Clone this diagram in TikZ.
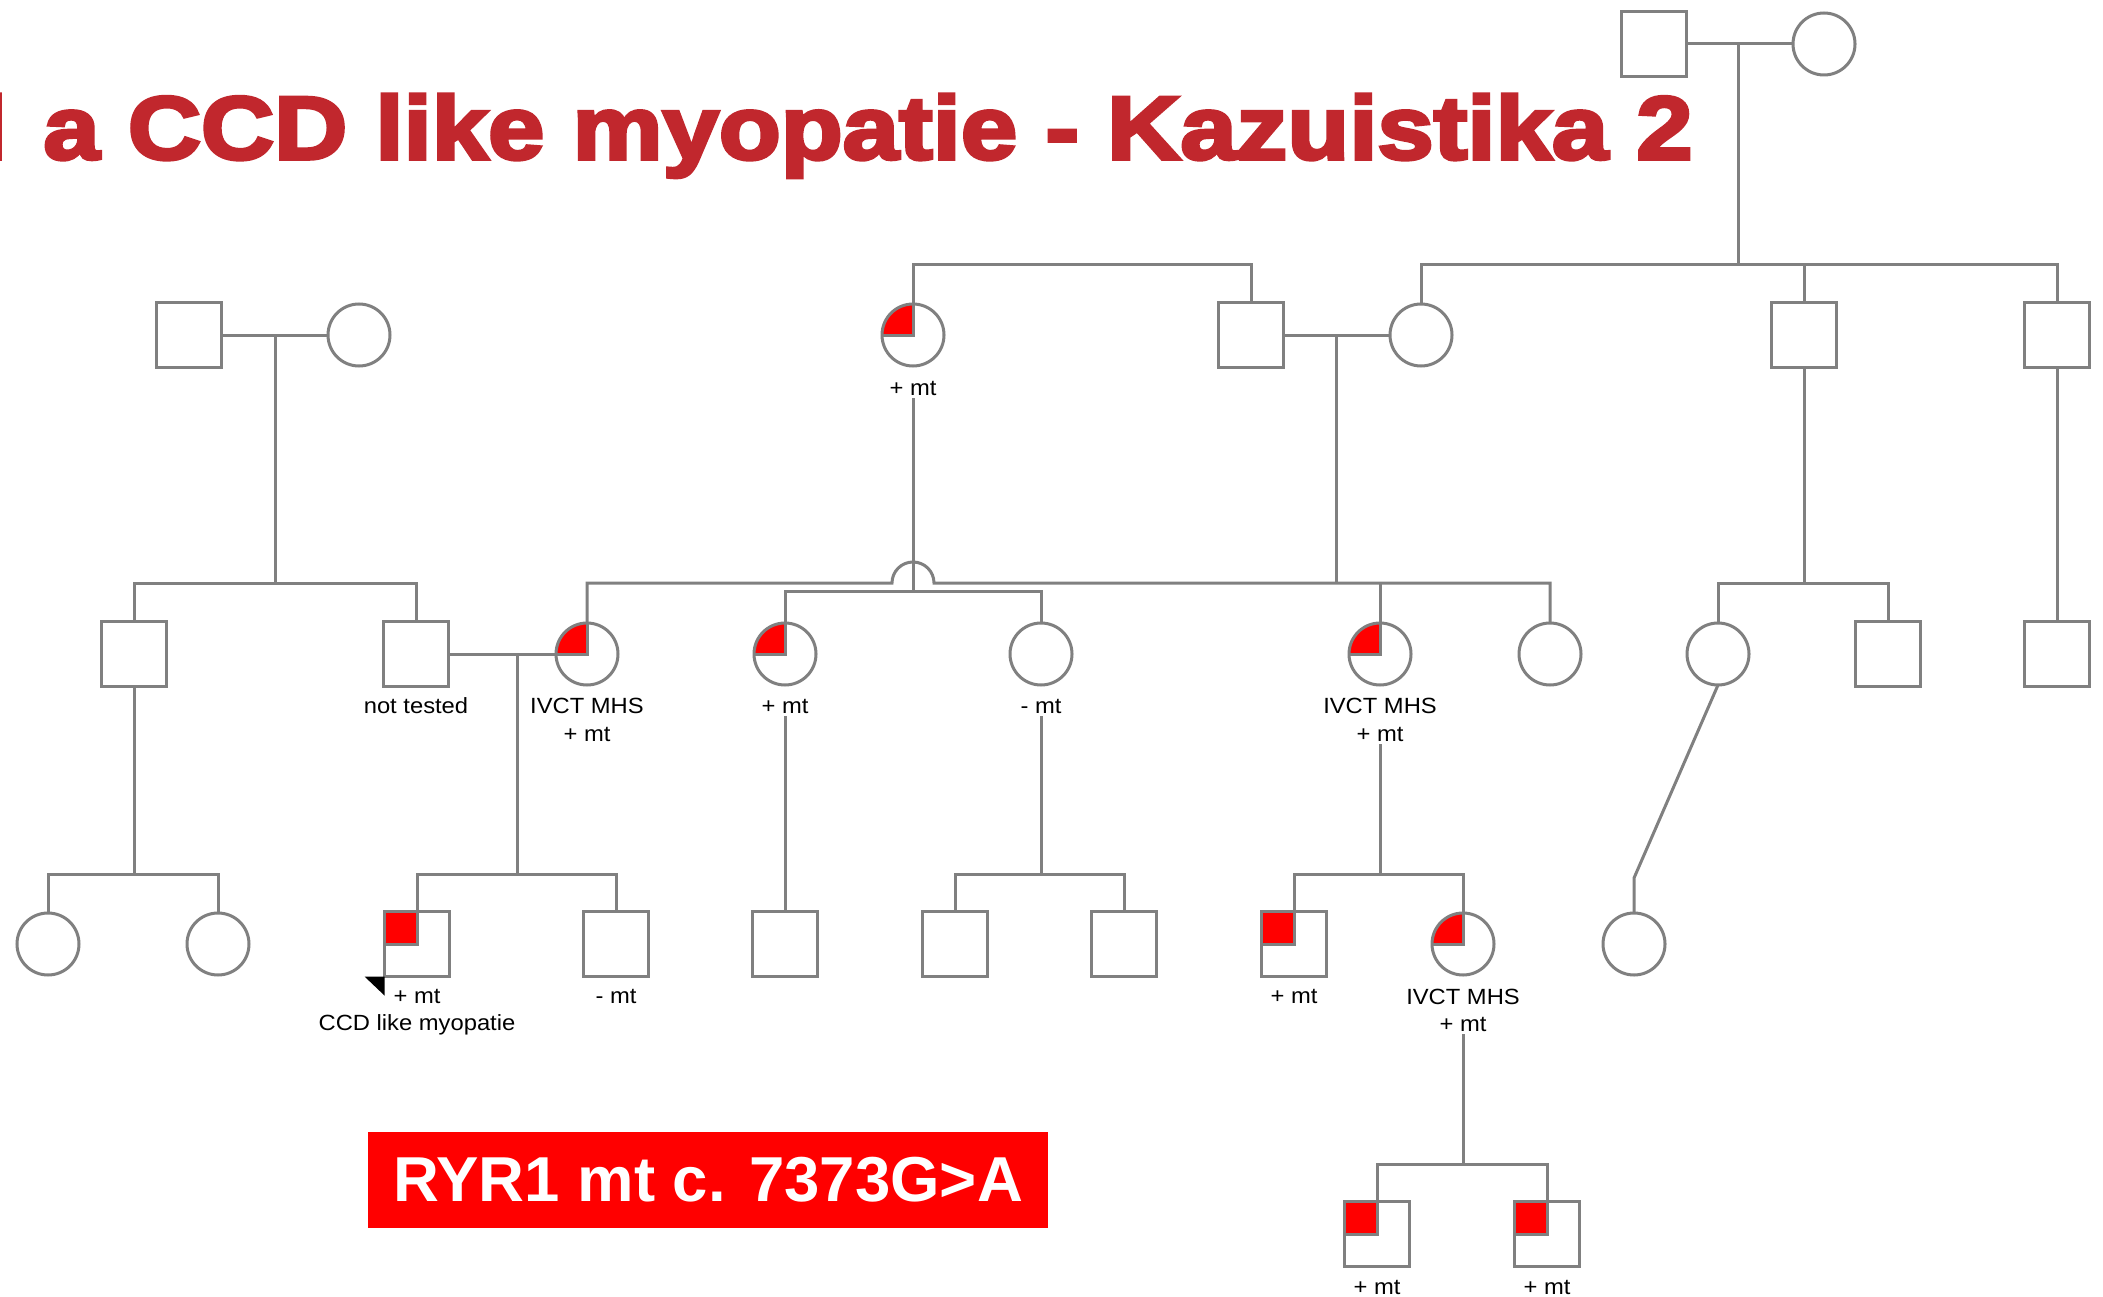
\documentclass[tikz,border=0pt]{standalone}
\usepackage{fontspec}
\setmainfont{Liberation Sans}
\newfontfamily\lblfont[FakeStretch=1.08]{Liberation Sans}
\newfontfamily\titlefont[FakeStretch=1.133,BoldFeatures={FakeBold=4}]{Liberation Sans}
\definecolor{pedgrey}{RGB}{128,128,128}
\definecolor{titlered}{RGB}{193,39,45}
\definecolor{bannerred}{RGB}{255,0,0}
\begin{document}
\begin{tikzpicture}[x=1pt,y=-1pt,
  male/.style={rectangle,draw=pedgrey,line width=3pt,minimum size=65pt,inner sep=0pt,outer sep=0pt,fill=white},
  female/.style={circle,draw=pedgrey,line width=3pt,minimum size=62pt,inner sep=0pt,outer sep=0pt,fill=white},
  carrier/.style={path picture={
     \fill[bannerred] (path picture bounding box.center) rectangle (path picture bounding box.north west);
     \draw[pedgrey,line width=3pt] (path picture bounding box.west) -- (path picture bounding box.center) -- (path picture bounding box.north);}},
  lbl/.style={font=\lblfont\fontsize{22}{26}\selectfont,inner xsep=1pt,inner ysep=3pt,text=black},
  conn/.style={draw=pedgrey,line width=3pt}]
\path[fill=white,use as bounding box] (0,0) rectangle (2103,1297);

% title
\node[anchor=base east,inner sep=0pt,text=titlered,font=\titlefont\bfseries\fontsize{89.4}{100}\selectfont] (title) at (1693,159) {l\kern 8pt{} a CCD like myopatie - Kazuistika 2};

% generation 0
\node[male] (A0) at (1654,44) {};
\node[female] (B0) at (1824,44) {};
% generation 1
\node[male] (L1m) at (189,335) {};
\node[female] (L1f) at (359,335) {};
\node[female,carrier] (G1) at (913,335) {};
\node[lbl,anchor=base] (G1l) at (913,395) {+ mt};
\node[male] (H1) at (1251,335) {};
\node[female] (I1) at (1421,335) {};
\node[male] (J1) at (1804,335) {};
\node[male] (K1) at (2057,335) {};
% generation 2
\node[male] (a2) at (134,654) {};
\node[male] (b2) at (416,654) {};
\node[lbl,anchor=base] (b2l) at (416,713) {not tested};
\node[female,carrier] (c2) at (587,654) {};
\node[lbl,anchor=base] (c2l) at (587,713) {IVCT MHS};
\node[lbl,anchor=base] (c2m) at (587,741) {+ mt};
\node[female,carrier] (d2) at (785,654) {};
\node[lbl,anchor=base] (d2l) at (785,713) {+ mt};
\node[female] (e2) at (1041,654) {};
\node[lbl,anchor=base] (e2l) at (1041,713) {- mt};
\node[female,carrier] (f2) at (1380,654) {};
\node[lbl,anchor=base] (f2l) at (1380,713) {IVCT MHS};
\node[lbl,anchor=base] (f2m) at (1380,741) {+ mt};
\node[female] (g2) at (1550,654) {};
\node[female] (h2) at (1718,654) {};
\node[male] (i2) at (1888,654) {};
\node[male] (j2) at (2057,654) {};
% generation 3
\node[female] (a3) at (48,944) {};
\node[female] (b3) at (218,944) {};
\node[male,carrier] (c3) at (417,944) {};
\node[lbl,anchor=base] (c3l) at (417,1003) {+ mt};
\node[lbl,anchor=base] (c3m) at (417,1030) {CCD like myopatie};
\node[male] (d3) at (616,944) {};
\node[lbl,anchor=base] (d3l) at (616,1003) {- mt};
\node[male] (e3) at (785,944) {};
\node[male] (f3) at (955,944) {};
\node[male] (g3) at (1124,944) {};
\node[male,carrier] (h3) at (1294,944) {};
\node[lbl,anchor=base] (h3l) at (1294,1003) {+ mt};
\node[female,carrier] (i3) at (1463,944) {};
\node[lbl,anchor=base] (i3l) at (1463,1004) {IVCT MHS};
\node[lbl,anchor=base] (i3m) at (1463,1031) {+ mt};
\node[female] (j3) at (1634,944) {};
% generation 4
\node[male,carrier] (a4) at (1377,1234) {};
\node[lbl,anchor=base] (a4l) at (1377,1294) {+ mt};
\node[male,carrier] (b4) at (1547,1234) {};
\node[lbl,anchor=base] (b4l) at (1547,1294) {+ mt};

% proband arrow
\fill[black] (c3.south west) -- ++(-20,0) -- ++(20,19) -- cycle;

% junction coordinates
\coordinate (mar0) at (1738,44);
\coordinate (d0) at (1738,265);
\coordinate (marL) at (275,335);
\coordinate (dL) at (275,583);
\coordinate (marHI) at (1336,335);
\coordinate (dHI) at (1336,583);
\coordinate (hopL) at (892,583);
\coordinate (dG) at (913,591);
\coordinate (dJ) at (1804,583);
\coordinate (da) at (134,874);
\coordinate (marBC) at (517,654);
\coordinate (dBC) at (517,874);
\coordinate (dE) at (1041,874);
\coordinate (dF) at (1380,874);
\coordinate (kink) at (1634,878);
\coordinate (dI) at (1463,1164);

% connectors
\draw[conn] (A0.east) -- (B0.west);
\draw[conn] (mar0) -- (d0);
\draw[conn] (I1.north) |- (d0) -| (K1.north);
\draw[conn] (J1.north) -- (J1.north |- d0);
\draw[conn] (G1.north) -- (G1.north |- d0) -| (H1.north);

\draw[conn] (L1m.east) -- (L1f.west);
\draw[conn] (marL) -- (dL);
\draw[conn] (a2.north) |- (dL) -| (b2.north);

\draw[conn] (H1.east) -- (I1.west);
\draw[conn] (marHI) -- (dHI);
\draw[conn] (c2.north) |- (hopL) arc[start angle=180,end angle=360,radius=21] -- (g2.north |- dHI) -- (g2.north);
\draw[conn] (f2.north) -- (f2.north |- dHI);

\draw[conn] (G1l.south) -- (dG);
\draw[conn] (d2.north) |- (dG) -| (e2.north);

\draw[conn] (J1.south) -- (dJ);
\draw[conn] (h2.north) |- (dJ) -| (i2.north);
\draw[conn] (K1.south) -- (j2.north);

\draw[conn] (a2.south) -- (da);
\draw[conn] (a3.north) |- (da) -| (b3.north);
\draw[conn] (b2.east) -- (c2.west);
\draw[conn] (marBC) -- (dBC);
\draw[conn] (c3.north) |- (dBC) -| (d3.north);
\draw[conn] (d2l.south) -- (e3.north);
\draw[conn] (e2l.south) -- (dE);
\draw[conn] (f3.north) |- (dE) -| (g3.north);
\draw[conn] (f2m.south) -- (dF);
\draw[conn] (h3.north) |- (dF) -| (i3.north);
\draw[conn] (h2.south) -- (kink) -- (j3.north);
\draw[conn] (i3m.south) -- (dI);
\draw[conn] (a4.north) |- (dI) -| (b4.north);

% banner
\node[fill=bannerred,minimum width=680pt,minimum height=96pt,inner sep=0pt,text=white,font=\bfseries\fontsize{63.5}{70}\selectfont] (banner) at (708,1180) {RYR1 mt c. 7373G>A};
\end{tikzpicture}
\end{document}
